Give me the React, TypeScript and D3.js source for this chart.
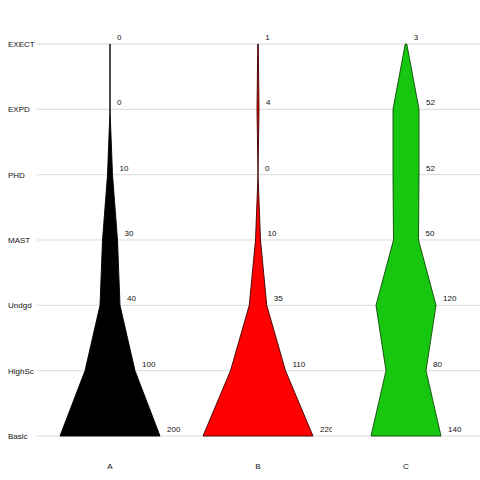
import React, { useEffect, useRef } from "react";
import * as d3 from "d3";

const levels = ["Basic", "HighSc", "Undgd", "MAST", "PHD", "EXPD", "EXECT"];
const groups = ["A", "B", "C"];
const valuesA = [200, 100, 40, 30, 10, 0, 0];
const valuesB = [220, 110, 35, 10, 0, 4, 1];
const valuesC = [140, 80, 120, 50, 52, 52, 3];
const fills = ["#000000", "#ff0000", "#17c70f"];
const strokes = ["#000000", "#3a0000", "#0b4a06"];

export default function App() {
  const ref = useRef<SVGSVGElement | null>(null);

  useEffect(() => {
    const width = 480;
    const height = 480;
    const svg = d3.select(ref.current);
    svg.selectAll("*").remove();
    svg.attr("viewBox", `0 0 ${width} ${height}`);

    const y = d3.scalePoint<string>().domain(levels).range([436, 44]);
    const x = d3.scalePoint<string>().domain(groups).range([110, 406]);
    const w = d3.scaleLinear().domain([0, 220]).range([0, 55]);
    const font = "Liberation Sans, Arial, sans-serif";
    const half = (x(groups[1])! - x(groups[0])!) / 2;

    // grid
    svg.append("g").selectAll("line").data(levels).enter().append("line")
      .attr("x1", 37).attr("x2", width)
      .attr("y1", d => y(d)!).attr("y2", d => y(d)!)
      .attr("stroke", "#d9d9d9").attr("stroke-width", 1);

    // y labels
    svg.append("g").selectAll("text").data(levels).enter().append("text")
      .attr("x", 8).attr("y", d => y(d)! + 3)
      .attr("font-family", font).attr("font-size", 8).attr("fill", "#111")
      .text(d => d);

    // x labels
    svg.append("g").selectAll("text").data(groups).enter().append("text")
      .attr("x", d => x(d)!).attr("y", 469).attr("text-anchor", "middle")
      .attr("font-family", font).attr("font-size", 8).attr("fill", "#111")
      .text(d => d);

    const defs = svg.append("defs");
    const series = [valuesA, valuesB, valuesC];
    series.forEach((vals, gi) => {
      const cx = x(groups[gi])!;
      const pts = levels.map((lv, i) => ({ lv, v: vals[i] }));
      const outline = pts.map(d => [cx + w(d.v), y(d.lv)!] as [number, number])
        .concat(pts.slice().reverse().map(d => [cx - w(d.v), y(d.lv)!] as [number, number]));
      svg.append("path")
        .attr("d", d3.line()(outline) + "Z")
        .attr("fill", fills[gi]).attr("stroke", strokes[gi]).attr("stroke-width", 0.9)
        .attr("stroke-linejoin", "round");

      // labels are clipped to each group's panel
      const clipId = `clip-${gi}`;
      defs.append("clipPath").attr("id", clipId).append("rect")
        .attr("x", cx - half).attr("y", 0).attr("width", half * 2).attr("height", height);

      svg.append("g").attr("clip-path", `url(#${clipId})`)
        .selectAll("text").data(pts).enter().append("text")
        .attr("x", d => cx + w(d.v) + 7).attr("y", d => y(d.lv)! - 4)
        .attr("font-family", font).attr("font-size", 8).attr("fill", "#111")
        .text(d => String(d.v));
    });
  }, []);

  return (
    <div style={{ position: "absolute", left: 0, top: 0, width: 480, height: 480, background: "#fff" }}>
      <svg ref={ref} width={480} height={480} style={{ display: "block" }} />
    </div>
  );
}
